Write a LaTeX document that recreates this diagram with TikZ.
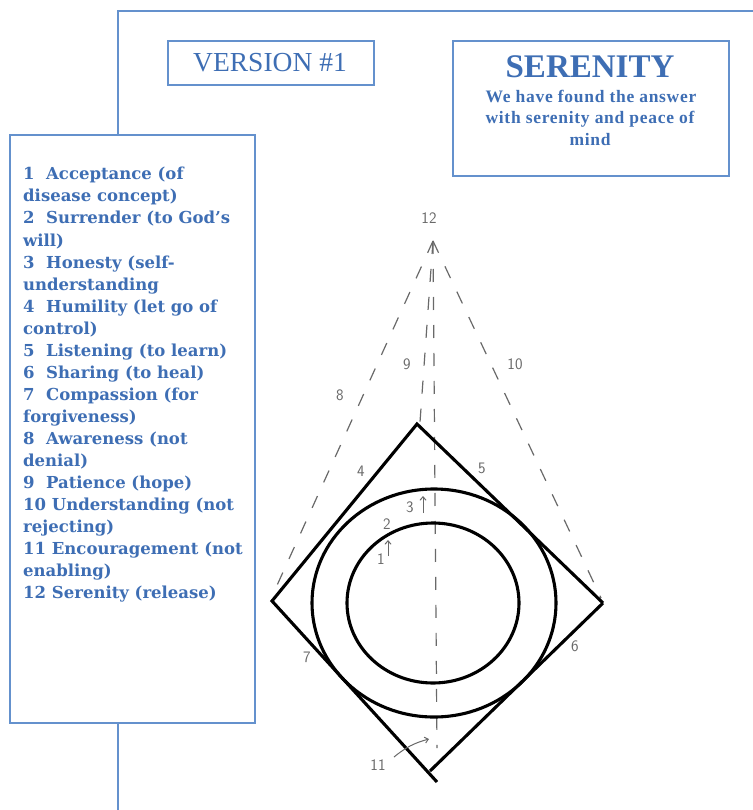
\documentclass[tikz,border=0pt]{standalone}
\usepackage{fontspec}
\setmainfont{Liberation Serif}
\newfontfamily\listfont{DejaVu Serif}
\newfontfamily\subfont[LetterSpace=4]{Liberation Serif}
\usetikzlibrary{arrows.meta}
\definecolor{boxblue}{RGB}{100,145,205}
\definecolor{txtblue}{RGB}{62,110,180}
\definecolor{pencil}{RGB}{105,105,105}
\begin{document}
\begin{tikzpicture}[x=1pt,y=-1pt,
  frame/.style={draw=boxblue,line width=1.4pt},
  bluebox/.style={draw=boxblue,line width=1.4pt,fill=white,inner sep=0pt},
  ink/.style={line width=3.1pt,black,line join=miter},
  guide/.style={draw=pencil,line width=1.2pt,dash pattern=on 13pt off 15pt},
  lbl/.style={text=pencil,font=\sffamily\fontsize{16}{16}\selectfont,inner sep=0pt},
  pen/.style={draw=pencil,line width=1pt,-{Straight Barb[length=3.5pt,width=6pt]}},
  bluetext/.style={text=txtblue,inner sep=0pt,anchor=base},
  listline/.style={anchor=base west,inner sep=0pt,text=txtblue,font=\listfont\bfseries\fontsize{16.5}{22}\selectfont}]

\useasboundingbox (0,0) rectangle (752,810);
\fill[white] (0,0) rectangle (752,810);

% outer frame
\coordinate (f1) at (118,810);
\coordinate (f2) at (118,11);
\coordinate (f3) at (753,11);
\draw[frame] (f1) -- (f2) -- (f3);

% header boxes
\node[bluebox,minimum width=206pt,minimum height=44pt] (vbox) at (271,63) {};
\node[bluetext,font=\fontsize{27.5}{30}\selectfont] (vtxt) at (270,72) {VERSION \#1};

\node[bluebox,minimum width=276pt,minimum height=135pt] (sbox) at (591,108.5) {};
\node[bluetext,font=\bfseries\fontsize{33}{36}\selectfont] (stitle) at (590,78) {SERENITY};
\node[bluetext,font=\subfont\bfseries\fontsize{17.5}{21}\selectfont] (s1) at (591,103) {We have found the answer};
\node[bluetext,font=\subfont\bfseries\fontsize{17.5}{21}\selectfont] (s2) at (590,124) {with serenity and peace of};
\node[bluetext,font=\subfont\bfseries\fontsize{17.5}{21}\selectfont] (s3) at (590,146) {mind};

% list box
\node[bluebox,minimum width=245pt,minimum height=588pt] (lbox) at (132.5,429) {};
\foreach \t [count=\i from 0] in {
  {1~~Acceptance (of},
  {disease concept)},
  {2~~Surrender (to God’s},
  {will)},
  {3~~Honesty (self-},
  {understanding},
  {4~~Humility (let go of},
  {control)},
  {5~~Listening (to learn)},
  {6~~Sharing (to heal)},
  {7~~Compassion (for},
  {forgiveness)},
  {8~~Awareness (not},
  {denial)},
  {9~~Patience (hope)},
  {10 Understanding (not},
  {rejecting)},
  {11 Encouragement (not},
  {enabling)},
  {12 Serenity (release)}}
  {\node[listline] (li\i) at (23,{180+22*\i}) {\t};}

% diagram coordinates
\coordinate (apex) at (433,241);
\coordinate (T) at (417,424);
\coordinate (L) at (272,601);
\coordinate (R) at (603,603);
\coordinate (B) at (430,771);
\coordinate (Bx) at (437,782);
\coordinate (gL) at (274,592);
\coordinate (gR) at (601,598);
\coordinate (g9) at (420,422);
\coordinate (gC) at (437,748);
\coordinate (ctr) at (434,603);
\coordinate (ctr2) at (433,603);

% pencil guide lines
\draw[guide] (apex) -- (gL);
\draw[guide] (apex) -- (gR);
\draw[guide] (apex) -- (g9);
\draw[guide] (apex) -- (gC);

% diamond
\draw[ink] (R) -- (T) -- (L) -- (Bx);
\draw[ink] (R) -- (B);

% circles
\draw[ink] (ctr) ellipse [x radius=122, y radius=114];
\draw[ink] (ctr2) ellipse [x radius=86, y radius=80];

% labels
\node[lbl] (n12) at (429,218) {12};
\node[lbl] (n8) at (340,395) {8};
\node[lbl] (n9) at (407,364) {9};
\node[lbl] (n10) at (515,364) {10};
\node[lbl] (n4) at (361,471) {4};
\node[lbl] (n5) at (482,468) {5};
\node[lbl] (n3) at (410,507) {3};
\node[lbl] (n2) at (387,524) {2};
\node[lbl] (n1) at (381,559) {1};
\node[lbl] (n7) at (307,657) {7};
\node[lbl] (n6) at (575,646) {6};
\node[lbl] (n11) at (378,765) {11};

\coordinate (a3s) at (423,513);
\coordinate (a3e) at (423,496);
\coordinate (a1s) at (388,556);
\coordinate (a1e) at (388,540);
\coordinate (a11s) at (394,757);
\coordinate (a11e) at (429,739);
\draw[pen] (a3s) -- (a3e);
\draw[pen] (a1s) -- (a1e);
\draw[pen] (a11s) to[bend left=12] (a11e);
\end{tikzpicture}
\end{document}
